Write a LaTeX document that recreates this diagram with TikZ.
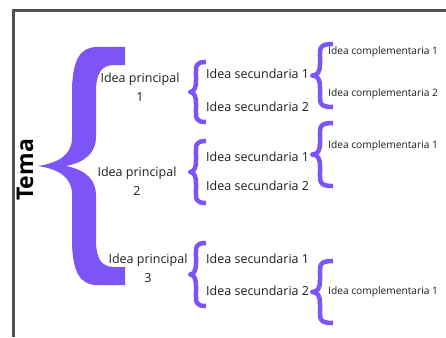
\documentclass[tikz,border=0pt]{standalone}
\usepackage{fontspec}
\setmainfont{Open Sans}
\definecolor{brc}{RGB}{125,84,245}
\definecolor{frm}{RGB}{80,80,80}
\definecolor{txt}{RGB}{30,30,30}
\newcommand\mybrace[5]{% tipx, stemx, endx, top, bottom
  \pgfmathsetmacro\mid{(#4+#5)/2}
  \draw[bracestroke] (#3,#4) .. controls (#2-1,#4) and (#2,#4+4) .. (#2,#4+14) -- (#2,\mid-12)
     .. controls (#2,\mid-4) and (#2-2,\mid) .. (#1,\mid)
     .. controls (#2-2,\mid) and (#2,\mid+4) .. (#2,\mid+12) -- (#2,#5-14)
     .. controls (#2,#5-4) and (#2-1,#5) .. (#3,#5);}
\tikzset{
  bracestroke/.style={draw=brc, line width=4.5pt, line join=round},
  ptext/.style={font=\fontsize{12.5}{19}\selectfont, text=txt, align=center, inner sep=0pt},
  stext/.style={font=\fontsize{12.5}{15}\selectfont, text=txt, anchor=west, inner sep=0pt},
  ctext/.style={font=\fontsize{10.2}{12}\selectfont, text=txt, anchor=west, inner sep=0pt},
}
\begin{document}
\begin{tikzpicture}[x=1pt,y=-1pt]
\useasboundingbox (0,0) rectangle (446,337);
\fill[white] (0,0) rectangle (446,337);
% frame
\draw[frm, line width=3pt] (13.5,337) -- (13.5,10.5) -- (446,10.5);
% big brace
\fill[brc] (125,47) -- (97,47) .. controls (80,47) and (73,60) .. (72,88) -- (72,138)
  .. controls (72,155) and (58,163) .. (38,166)
  .. controls (58,169) and (72,177) .. (72,194) -- (72,244)
  .. controls (73,272) and (80,285) .. (97,285) -- (125,285) -- (125,267) -- (114,267)
  .. controls (101,267) and (96,258) .. (96,240) -- (96,195)
  .. controls (96,180) and (86,170) .. (66,166)
  .. controls (86,162) and (96,152) .. (96,137) -- (96,92)
  .. controls (96,74) and (101,65) .. (114,65) -- (125,65) -- cycle;
\node[font=\fontsize{23}{26}\selectfont\bfseries, text=black, rotate=90, inner sep=0pt] (tema) at (25,170) {Tema};
% principal ideas
\node[ptext] (p1) at (140,87) {Idea principal\\1};
\node[ptext] (p2) at (137,181) {Idea principal\\2};
\node[ptext] (p3) at (148,268) {Idea principal\\3};
% medium braces
\mybrace{190}{196}{206}{62}{122}
\mybrace{190}{196}{206}{141}{203}
\mybrace{190}{196}{206}{243}{306}
% secondary ideas
\node[stext] (s11) at (206,74) {Idea secundaria 1};
\node[stext] (s12) at (206,107) {Idea secundaria 2};
\node[stext] (s21) at (206,157) {Idea secundaria 1};
\node[stext] (s22) at (206,186) {Idea secundaria 2};
\node[stext] (s31) at (206,259) {Idea secundaria 1};
\node[stext] (s32) at (206,291) {Idea secundaria 2};
% small braces
\mybrace{312}{320}{333}{44}{107}
\mybrace{312}{320}{333}{123}{186}
\mybrace{312}{320}{333}{261}{323}
% complementary ideas
\node[ctext] (c11) at (328,52) {Idea complementaria 1};
\node[ctext] (c12) at (328,94) {Idea complementaria 2};
\node[ctext] (c21) at (328,146) {Idea complementaria 1};
\node[ctext] (c31) at (328,292) {Idea complementaria 1};
\end{tikzpicture}
\end{document}
